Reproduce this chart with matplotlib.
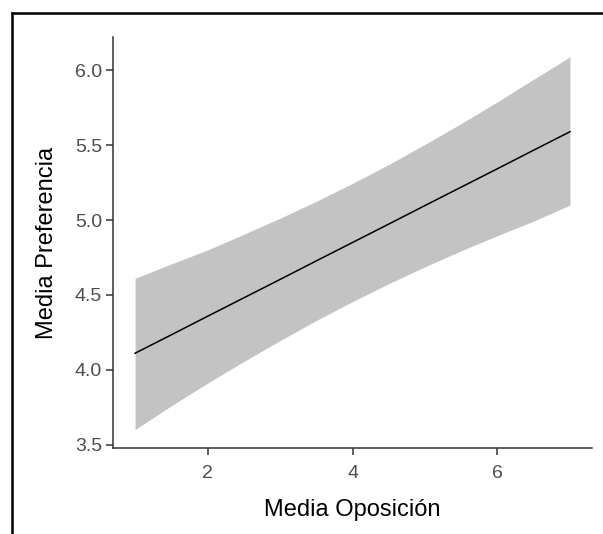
import matplotlib.pyplot as plt
from matplotlib.lines import Line2D

# fitted line with its confidence band, sampled every half unit of oposicion
oposicion = [1, 1.5, 2, 2.5, 3, 3.5, 4, 4.5, 5, 5.5, 6, 6.5, 7]
preferencia = [4.11, 4.233, 4.357, 4.48, 4.603, 4.727, 4.85,
               4.973, 5.097, 5.22, 5.343, 5.467, 5.59]
banda_sup = [4.61, 4.707, 4.80, 4.905, 5.012, 5.125, 5.245,
             5.371, 5.506, 5.645, 5.79, 5.941, 6.09]
banda_inf = [3.60, 3.759, 3.91, 4.055, 4.194, 4.329, 4.455,
             4.575, 4.688, 4.795, 4.896, 4.993, 5.10]

x_ticks = [2, 4, 6]
y_ticks = [3.5, 4.0, 4.5, 5.0, 5.5, 6.0]

plt.rcParams["font.family"] = ["Liberation Sans", "DejaVu Sans"]

fig = plt.figure(figsize=(6.03, 5.34), dpi=100)
ax = fig.add_axes([0.1879, 0.1605, 0.7934, 0.7708])

ax.fill_between(oposicion, banda_inf, banda_sup, color="#c3c3c3", linewidth=0)
ax.plot(oposicion, preferencia, color="black", linewidth=1.1)

ax.set_xlim(0.7, 7.3)
ax.set_ylim(3.475, 6.225)
ax.set_xticks(x_ticks)
ax.set_yticks(y_ticks)
ax.set_xticklabels([str(t) for t in x_ticks])
ax.set_yticklabels([f"{t:.1f}" for t in y_ticks])

for side in ("top", "right"):
    ax.spines[side].set_visible(False)
for side in ("left", "bottom"):
    ax.spines[side].set_color("#333333")
    ax.spines[side].set_linewidth(1.1)

ax.tick_params(axis="both", colors="#333333", width=1.1, length=5,
               labelsize=14, labelcolor="#4d4d4d")
ax.tick_params(axis="x", pad=7)
ax.tick_params(axis="y", pad=3)

ax.set_xlabel("Media Oposición", fontsize=17, labelpad=12)
ax.set_ylabel("Media Preferencia", fontsize=17, labelpad=12)

# frame on the top and left edges of the figure
fig.add_artist(Line2D([12 / 603, 1.0], [1 - 13 / 534, 1 - 13 / 534],
                      transform=fig.transFigure, color="black", linewidth=1.8))
fig.add_artist(Line2D([12 / 603, 12 / 603], [0.0, 1 - 13 / 534],
                      transform=fig.transFigure, color="black", linewidth=1.8))

fig.savefig("out.png", dpi=100)
